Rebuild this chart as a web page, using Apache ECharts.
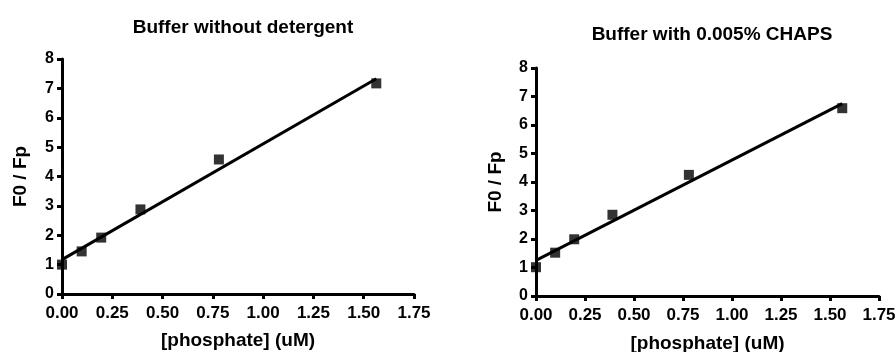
<!DOCTYPE html>
<html>
<head>
<meta charset="utf-8">
<script src="https://cdn.jsdelivr.net/npm/echarts@6/dist/echarts.min.js"></script>
<style>
  html, body { margin: 0; padding: 0; background: #fff; }
  #chart { width: 896px; height: 352px; }
</style>
</head>
<body>
<div id="chart"></div>
<script>
// phosphate concentrations (uM), serial dilution
const conc = [0, 0.0977, 0.195, 0.39, 0.78, 1.5625];

// F0 / Fp, buffer without detergent
const noDetergent = [1.0, 1.45, 1.92, 2.88, 4.58, 7.17];
// F0 / Fp, buffer with 0.005% CHAPS
const withChaps = [1.01, 1.52, 1.99, 2.85, 4.25, 6.59];

// fitted lines, end points
const fitX = [0, 1.5625];
const fitNoDetergent = [1.17, 7.33];
const fitChaps = [1.25, 6.75];

const titles = ['Buffer without detergent', 'Buffer with 0.005% CHAPS'];
const xTicks = ['0.00', '0.25', '0.50', '0.75', '1.00', '1.25', '1.50', '1.75'];

const font = '"Liberation Sans", Arial, sans-serif';

const pairs = (xs, ys) => xs.map((x, i) => [x, ys[i]]);

const axisLine = { show: true, lineStyle: { color: '#000', width: 3 } };
const axisTick = { show: true, length: 5, lineStyle: { color: '#000', width: 3 } };

function makeX(idx, gap) {
  return {
    type: 'value', gridIndex: idx, min: 0, max: 1.75, interval: 0.25,
    name: '[phosphate] (uM)', nameLocation: 'middle', nameGap: gap,
    nameTextStyle: { fontFamily: font, fontWeight: 'bold', fontSize: 19, color: '#000' },
    axisLine: axisLine, axisTick: axisTick, splitLine: { show: false },
    axisLabel: {
      margin: 11, fontFamily: font, fontWeight: 'bold', fontSize: 17, color: '#000',
      formatter: (v) => xTicks[Math.round(v / 0.25)]
    }
  };
}

function makeY(idx, gap) {
  return {
    type: 'value', gridIndex: idx, min: 0, max: 8, interval: 1,
    name: 'F0 / Fp', nameLocation: 'middle', nameGap: gap,
    nameTextStyle: { fontFamily: font, fontWeight: 'bold', fontSize: 19, color: '#000' },
    axisLine: axisLine, axisTick: axisTick, splitLine: { show: false },
    axisLabel: { margin: 8, fontFamily: font, fontWeight: 'bold', fontSize: 16, color: '#000' }
  };
}

function scatter(idx, ys) {
  return {
    type: 'scatter', xAxisIndex: idx, yAxisIndex: idx, clip: false,
    symbol: 'rect', symbolSize: 10, itemStyle: { color: '#000' },
    data: pairs(conc, ys), z: 3
  };
}

function fit(idx, ys) {
  return {
    type: 'line', xAxisIndex: idx, yAxisIndex: idx, showSymbol: false,
    lineStyle: { color: '#000', width: 3 }, data: pairs(fitX, ys), z: 2
  };
}

const chart = echarts.init(document.getElementById('chart'));
chart.setOption({
  animation: false,
  backgroundColor: '#fff',
  title: [
    { text: titles[0], left: 238, top: 13, textAlign: 'center',
      textStyle: { fontFamily: font, fontWeight: 'bold', fontSize: 19, color: '#000' } },
    { text: titles[1], left: 707, top: 20, textAlign: 'center',
      textStyle: { fontFamily: font, fontWeight: 'bold', fontSize: 19, color: '#000' } }
  ],
  grid: [
    { left: 62, right: 482, top: 59, bottom: 58, outerBoundsMode: 'none' },
    { left: 536, right: 17, top: 68, bottom: 56, outerBoundsMode: 'none' }
  ],
  xAxis: [makeX(0, 37), makeX(1, 38)],
  yAxis: [makeY(0, 32), makeY(1, 31)],
  series: [
    fit(0, fitNoDetergent),
    scatter(0, noDetergent),
    fit(1, fitChaps),
    scatter(1, withChaps)
  ]
});
</script>
</body>
</html>
